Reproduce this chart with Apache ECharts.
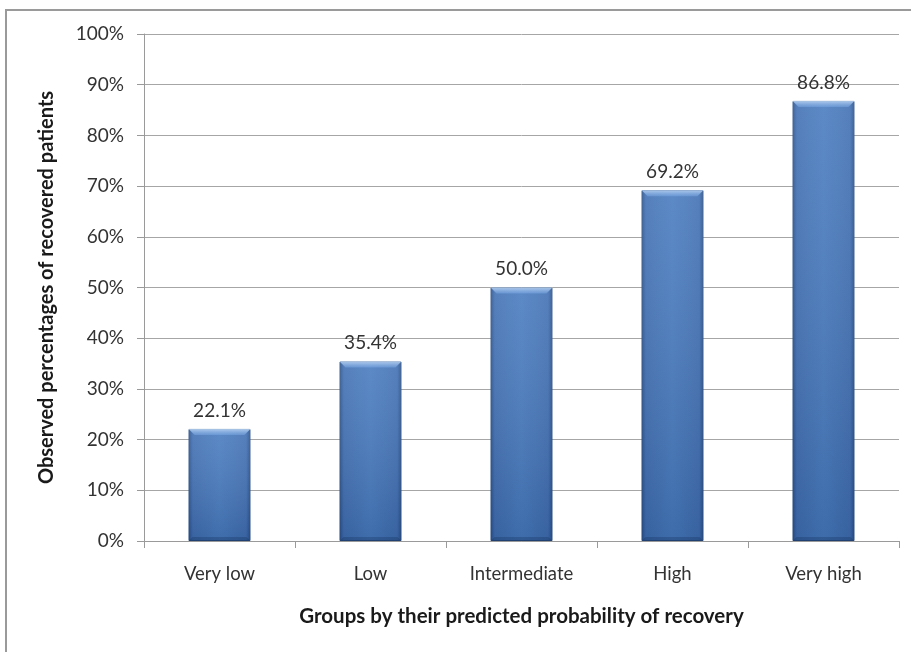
<!DOCTYPE html>
<html>
<head>
<meta charset="utf-8">
<script src="https://cdn.jsdelivr.net/npm/echarts@6/dist/echarts.min.js"></script>
<style>
  html, body { margin: 0; padding: 0; background: #ffffff; }
  #chart { width: 911px; height: 652px; }
</style>
</head>
<body>
<div id="chart"></div>
<script>
// Recovery groups and the observed share of recovered patients in each (%)
var categories = ['Very low', 'Low', 'Intermediate', 'High', 'Very high'];
var recoveredPct = [22.1, 35.4, 50.0, 69.2, 86.8];
var yTicks = [0, 10, 20, 30, 40, 50, 60, 70, 80, 90, 100];

var FONT = 'Lato, "Open Sans", sans-serif';
var BAR_RATIO = 0.41;
var chart = echarts.init(document.getElementById('chart'), null, { renderer: 'canvas' });

// Base fill: darker along the left and right edges of each column
var barFill = new echarts.graphic.LinearGradient(0, 0, 1, 0, [
  { offset: 0, color: '#2a528e' },
  { offset: 0.07, color: '#4271b3' },
  { offset: 0.5, color: '#4a7dc0' },
  { offset: 0.93, color: '#4271b3' },
  { offset: 1, color: '#2a528e' }
]);

// Bevel overlay: light top edge, shading toward the base
function renderBevel(params, api) {
  var top = api.coord([api.value(0), api.value(1)]);
  var base = api.coord([api.value(0), 0]);
  var w = api.size([1, 0])[0] * BAR_RATIO;
  var l = top[0] - w / 2, r = top[0] + w / 2;
  var h = base[1] - top[1];
  var b = 6;
  return {
    type: 'group',
    silent: true,
    children: [
      {
        type: 'rect',
        shape: { x: l, y: top[1], width: w, height: h },
        style: {
          fill: new echarts.graphic.LinearGradient(0, 0, 0, 1, [
            { offset: 0, color: 'rgba(255,255,255,0.10)' },
            { offset: 1, color: 'rgba(0,20,60,0.16)' }
          ])
        }
      },
      {
        type: 'polygon',
        shape: { points: [[l, top[1]], [r, top[1]], [r - b, top[1] + b], [l + b, top[1] + b]] },
        style: {
          fill: new echarts.graphic.LinearGradient(0, 0, 0, 1, [
            { offset: 0, color: 'rgba(190,215,245,0.85)' },
            { offset: 1, color: 'rgba(120,165,225,0.55)' }
          ])
        }
      },
      {
        type: 'polygon',
        shape: { points: [[l, base[1]], [r, base[1]], [r - 4, base[1] - 4], [l + 4, base[1] - 4]] },
        style: { fill: 'rgba(20,45,90,0.30)' }
      }
    ]
  };
}

chart.setOption({
  backgroundColor: '#ffffff',
  animation: false,
  graphic: [{
    type: 'rect',
    shape: { x: 6, y: 10, width: 1000, height: 800 },
    style: { fill: 'none', stroke: '#9a9a9a', lineWidth: 2 },
    silent: true,
    z: 100
  }],
  grid: { left: 144, right: 12, top: 34, bottom: 111, containLabel: false },
  xAxis: {
    type: 'category',
    data: categories,
    name: 'Groups by their predicted probability of recovery',
    nameLocation: 'middle',
    nameGap: 65,
    nameTextStyle: { fontFamily: FONT, fontSize: 20.5, fontWeight: 'bold', color: '#1a1a1a' },
    axisLine: { lineStyle: { color: '#9a9a9a', width: 1 } },
    axisTick: { show: true, alignWithLabel: false, length: 7, lineStyle: { color: '#9a9a9a' } },
    axisLabel: { fontFamily: FONT, fontSize: 18.5, color: '#333333', margin: 24 },
    splitLine: { show: false }
  },
  yAxis: {
    type: 'value',
    min: 0,
    max: 100,
    interval: 10,
    name: 'Observed percentages of recovered patients',
    nameLocation: 'middle',
    nameGap: 87,
    nameRotate: 90,
    nameTextStyle: { fontFamily: FONT, fontSize: 20, fontWeight: 'bold', color: '#1a1a1a' },
    axisLine: { show: true, lineStyle: { color: '#9a9a9a', width: 1 } },
    axisTick: { show: true, length: 7, lineStyle: { color: '#9a9a9a' } },
    axisLabel: {
      fontFamily: FONT, fontSize: 19, color: '#333333', margin: 20,
      formatter: function (v) { return yTicks.indexOf(v) >= 0 ? v + '%' : ''; }
    },
    splitLine: { show: true, lineStyle: { color: '#a6a6a6', width: 1 } }
  },
  series: [
    {
      type: 'bar',
      data: recoveredPct,
      barWidth: (BAR_RATIO * 100) + '%',
      itemStyle: { color: barFill, borderColor: '#2c5288', borderWidth: 1 },
      label: {
        show: true,
        position: 'top',
        distance: 9,
        fontFamily: FONT,
        fontSize: 19,
        color: '#333333',
        formatter: function (p) { return p.value.toFixed(1) + '%'; }
      }
    },
    {
      type: 'custom',
      renderItem: renderBevel,
      data: recoveredPct.map(function (v, i) { return [i, v]; }),
      encode: { x: 0, y: 1 },
      z: 3
    }
  ]
});
</script>
</body>
</html>
